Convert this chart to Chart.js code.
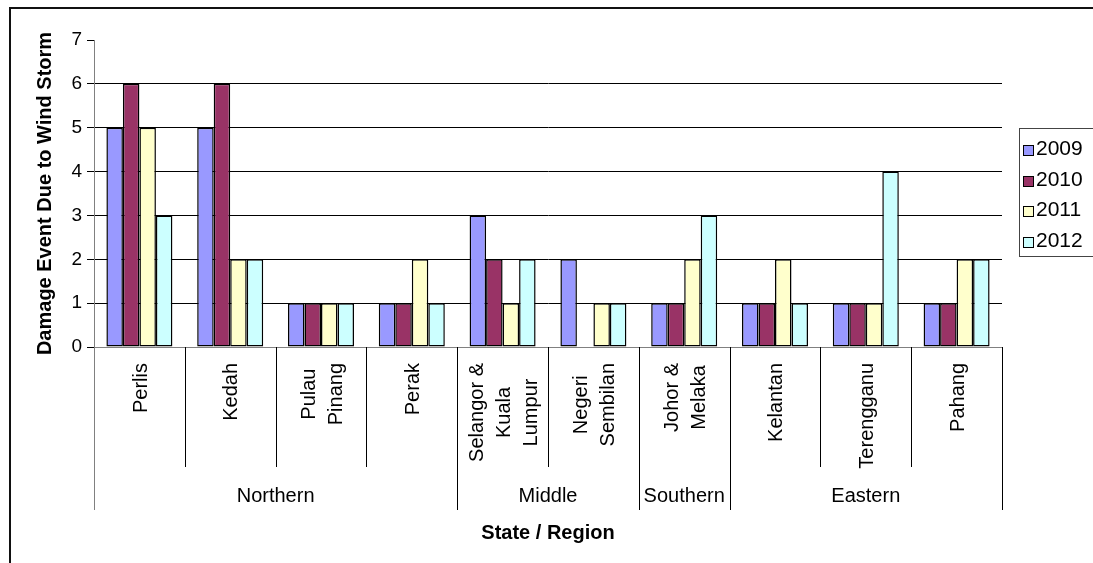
<!DOCTYPE html>
<html>
<head>
<meta charset="utf-8">
<script src="https://cdn.jsdelivr.net/npm/chart.js@4.4.0/dist/chart.umd.min.js"></script>
<style>
  html, body { margin: 0; padding: 0; background: #fff; }
</style>
</head>
<body>
<canvas id="chart" width="1093" height="563"></canvas>
<script>
// states (wrapped label lines) and the region each group belongs to
const states = [['Perlis'], ['Kedah'], ['Pulau', 'Pinang'], ['Perak'],
  ['Selangor &', 'Kuala', 'Lumpur'], ['Negeri', 'Sembilan'], ['Johor &', 'Melaka'],
  ['Kelantan'], ['Terengganu'], ['Pahang']];
const regions = ['Northern', 'Middle', 'Southern', 'Eastern'];
const regionSizes = [4, 2, 1, 3];
const years = ['2009', '2010', '2011', '2012'];
const events2009 = [5, 5, 1, 1, 3, 2, 1, 1, 1, 1];
const events2010 = [6, 6, 1, 1, 2, 0, 1, 1, 1, 1];
const events2011 = [5, 2, 1, 2, 1, 1, 2, 2, 1, 2];
const events2012 = [3, 2, 1, 1, 2, 1, 3, 1, 4, 2];
const yMax = 7;

const colors = ['#9999FF', '#993366', '#FFFFCC', '#CCFFFF'];
const FONT = 'Arial, "Liberation Sans", sans-serif';

// frame around the whole chart (cut off at right and bottom like the original)
const framePlugin = {
  id: 'frame',
  beforeDraw(chart) {
    const ctx = chart.ctx;
    ctx.save();
    ctx.fillStyle = '#fff';
    ctx.fillRect(0, 0, chart.width, chart.height);
    ctx.strokeStyle = '#111';
    ctx.lineWidth = 2;
    ctx.strokeRect(10, 8, chart.width + 20, chart.height + 20);
    ctx.restore();
  }
};

// two level category axis: state labels, separators, region labels
const multiAxisPlugin = {
  id: 'multiAxis',
  afterDraw(chart) {
    const ctx = chart.ctx;
    const xs = chart.scales.x;
    const area = chart.chartArea;
    const step = xs.getPixelForValue(1) - xs.getPixelForValue(0);
    const edge = i => xs.getPixelForValue(i) - step / 2;

    const regionEdges = [0];
    regionSizes.forEach(n => regionEdges.push(regionEdges[regionEdges.length - 1] + n));

    ctx.save();
    ctx.lineWidth = 1;
    for (let i = 0; i <= states.length; i++) {
      const x = Math.round(edge(i)) + 0.5;
      const isRegion = regionEdges.includes(i);
      ctx.strokeStyle = i === 0 ? '#808080' : '#000';
      ctx.beginPath();
      ctx.moveTo(x, area.bottom);
      ctx.lineTo(x, area.bottom + (isRegion ? 163 : 120));
      ctx.stroke();
    }

    ctx.fillStyle = '#000';
    ctx.font = '20px ' + FONT;
    const cap = 20 * 0.716;
    states.forEach((lines, i) => {
      const cx = xs.getPixelForValue(i);
      const maxW = Math.max(...lines.map(l => ctx.measureText(l).width));
      const cy = area.bottom + 16 + maxW / 2;
      lines.forEach((line, j) => {
        const lx = cx + (j - (lines.length - 1) / 2) * 27;
        ctx.save();
        ctx.translate(lx, cy);
        ctx.rotate(-Math.PI / 2);
        ctx.textAlign = 'center';
        ctx.textBaseline = 'alphabetic';
        ctx.fillText(line, 0, cap / 2);
        ctx.restore();
      });
    });

    ctx.textAlign = 'center';
    ctx.textBaseline = 'alphabetic';
    regions.forEach((name, r) => {
      const x = (edge(regionEdges[r]) + edge(regionEdges[r + 1])) / 2;
      ctx.fillText(name, x, area.bottom + 148 + cap / 2);
    });
    ctx.restore();
  }
};

// Excel style legend box on the right
const legendPlugin = {
  id: 'boxLegend',
  afterDraw(chart) {
    const ctx = chart.ctx;
    ctx.save();
    ctx.strokeStyle = '#444';
    ctx.lineWidth = 1;
    ctx.strokeRect(1019.5, 128.5, 100, 128);
    ctx.font = '21px ' + FONT;
    ctx.textBaseline = 'middle';
    ctx.textAlign = 'left';
    chart.data.datasets.forEach((ds, i) => {
      const y = Math.round(148 + i * 30.5);
      ctx.fillStyle = ds.backgroundColor;
      ctx.fillRect(1023, y - 3, 10, 10);
      ctx.strokeStyle = '#000';
      ctx.strokeRect(1023.5, y - 2.5, 10, 10);
      ctx.fillStyle = '#000';
      ctx.fillText(ds.label, 1036, y + 1);
    });
    ctx.restore();
  }
};

const series = [events2009, events2010, events2011, events2012];

new Chart(document.getElementById('chart'), {
  type: 'bar',
  data: {
    labels: states.map(s => s.join(' ')),
    datasets: years.map((yr, i) => ({
      label: yr,
      data: series[i],
      backgroundColor: colors[i],
      borderColor: '#000',
      borderWidth: 1.5,
      borderSkipped: false,
      barPercentage: 1,
      categoryPercentage: 0.727
    }))
  },
  options: {
    responsive: false,
    animation: false,
    layout: { padding: { left: 10, top: 40, right: 91, bottom: 0 } },
    plugins: {
      legend: { display: false },
      tooltip: { enabled: false }
    },
    scales: {
      x: {
        grid: { display: false },
        border: { display: true, color: '#808080', width: 1 },
        ticks: { display: false },
        title: {
          display: true,
          text: 'State / Region',
          color: '#000',
          font: { family: FONT, size: 20, weight: 'bold' },
          padding: { top: 0, bottom: 18 }
        },
        afterFit(scale) { scale.height = 216; }
      },
      y: {
        min: 0,
        max: yMax,
        ticks: {
          stepSize: 1,
          color: '#000',
          padding: 5,
          font: { family: FONT, size: 19 }
        },
        grid: {
          color: c => c.tick.value === yMax ? 'rgba(0,0,0,0)' : (c.tick.value === 0 ? '#808080' : '#000'),
          tickColor: '#000',
          tickLength: 7,
          lineWidth: 1
        },
        border: { display: true, color: '#808080', width: 1 },
        title: {
          display: true,
          text: 'Damage Event Due to Wind Storm',
          color: '#000',
          font: { family: FONT, size: 20, weight: 'bold' },
          padding: { top: 23, bottom: 0 }
        },
        afterFit(scale) { scale.width = 84; }
      }
    }
  },
  plugins: [framePlugin, multiAxisPlugin, legendPlugin]
});
</script>
</body>
</html>
